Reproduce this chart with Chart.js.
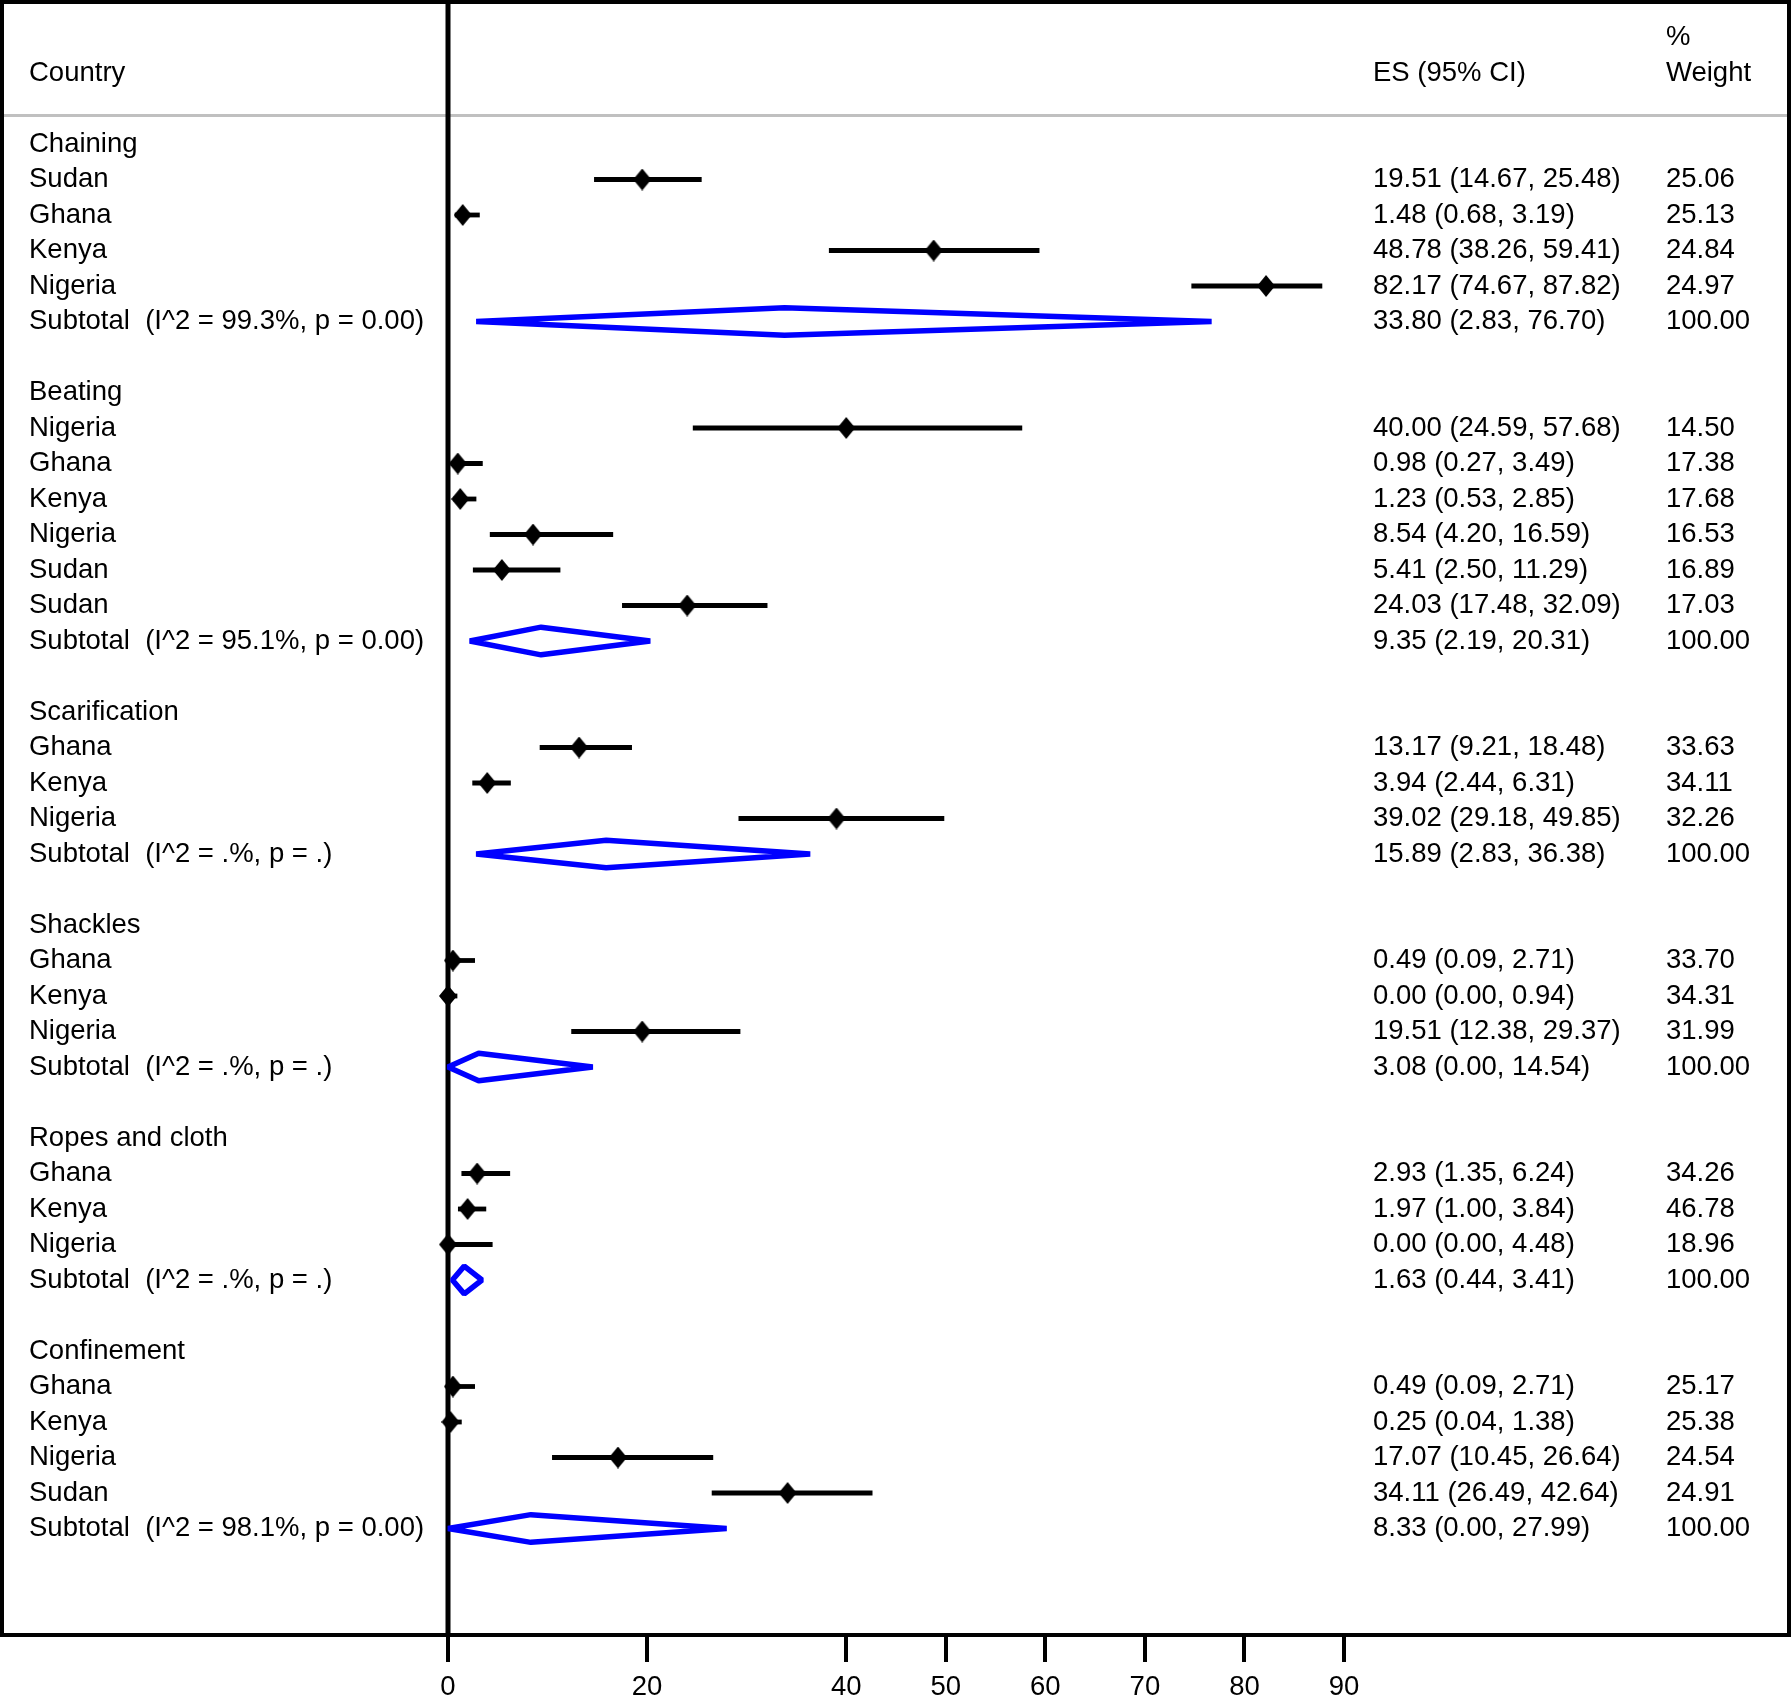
<!DOCTYPE html>
<html>
<head>
<meta charset="utf-8">
<script src="https://cdn.jsdelivr.net/npm/chart.js@4.4.1/dist/chart.umd.min.js"></script>
<style>
  body { margin: 0; background: #fff; }
  #wrap { width: 1792px; height: 1697px; position: relative; }
</style>
</head>
<body>
<div id="wrap"><canvas id="forest"></canvas></div>
<script>
// groups of restraint type
var groups = ['Chaining', 'Beating', 'Scarification', 'Shackles', 'Ropes and cloth', 'Confinement'];
// study rows: group index, country, ES, lower, upper, weight
var studyGroup = [0,0,0,0, 1,1,1,1,1,1, 2,2,2, 3,3,3, 4,4,4, 5,5,5,5];
var countries = ['Sudan','Ghana','Kenya','Nigeria',
  'Nigeria','Ghana','Kenya','Nigeria','Sudan','Sudan',
  'Ghana','Kenya','Nigeria',
  'Ghana','Kenya','Nigeria',
  'Ghana','Kenya','Nigeria',
  'Ghana','Kenya','Nigeria','Sudan'];
var es = [19.51,1.48,48.78,82.17, 40.00,0.98,1.23,8.54,5.41,24.03, 13.17,3.94,39.02, 0.49,0.00,19.51, 2.93,1.97,0.00, 0.49,0.25,17.07,34.11];
var lo = [14.67,0.68,38.26,74.67, 24.59,0.27,0.53,4.20,2.50,17.48, 9.21,2.44,29.18, 0.09,0.00,12.38, 1.35,1.00,0.00, 0.09,0.04,10.45,26.49];
var hi = [25.48,3.19,59.41,87.82, 57.68,3.49,2.85,16.59,11.29,32.09, 18.48,6.31,49.85, 2.71,0.94,29.37, 6.24,3.84,4.48, 2.71,1.38,26.64,42.64];
var weight = [25.06,25.13,24.84,24.97, 14.50,17.38,17.68,16.53,16.89,17.03, 33.63,34.11,32.26, 33.70,34.31,31.99, 34.26,46.78,18.96, 25.17,25.38,24.54,24.91];
// pooled subtotals per group
var subEs = [33.80, 9.35, 15.89, 3.08, 1.63, 8.33];
var subLo = [2.83, 2.19, 2.83, 0.00, 0.44, 0.00];
var subHi = [76.70, 20.31, 36.38, 14.54, 3.41, 27.99];
var subHet = ['(I^2 = 99.3%, p = 0.00)', '(I^2 = 95.1%, p = 0.00)', '(I^2 = .%, p = .)',
  '(I^2 = .%, p = .)', '(I^2 = .%, p = .)', '(I^2 = 98.1%, p = 0.00)'];
// x axis tick labels
var tickVals = [0, 20, 40, 50, 60, 70, 80, 90];

var FONT = '27.5px "Liberation Sans", Arial, Helvetica, sans-serif';
var LABEL_X = 29, ES_X = 1373, WT_X = 1666;
var DIA_H = 0.39; // half height of pooled diamond, in rows

// work out rows
var rowText = [];   // {row, left, es, wt}
var studyRow = [];
var subRow = [];
var r = 0, k = 0;
groups.forEach(function(g, gi) {
  rowText.push({ row: r, left: g });
  r++;
  while (k < studyGroup.length && studyGroup[k] == gi) {
    studyRow[k] = r;
    rowText.push({ row: r, left: countries[k],
      es: es[k].toFixed(2) + ' (' + lo[k].toFixed(2) + ', ' + hi[k].toFixed(2) + ')',
      wt: weight[k].toFixed(2) });
    r++; k++;
  }
  subRow[gi] = r;
  rowText.push({ row: r, left: 'Subtotal  ' + subHet[gi],
    es: subEs[gi].toFixed(2) + ' (' + subLo[gi].toFixed(2) + ', ' + subHi[gi].toFixed(2) + ')',
    wt: '100.00' });
  r += 2;
});

// black diamond marker
var dia = document.createElement('canvas');
dia.width = 18; dia.height = 22;
var dctx = dia.getContext('2d');
dctx.fillStyle = '#000';
dctx.beginPath();
dctx.moveTo(9, 0); dctx.lineTo(18, 11); dctx.lineTo(9, 22); dctx.lineTo(0, 11);
dctx.closePath();
dctx.fill();

var datasets = [];
// point estimates
datasets.push({
  type: 'scatter',
  data: es.map(function(v, i) { return { x: v, y: studyRow[i] }; }),
  pointStyle: dia, pointRadius: 10, order: 0
});
// confidence intervals
es.forEach(function(v, i) {
  datasets.push({
    type: 'line',
    data: [{ x: lo[i], y: studyRow[i] }, { x: hi[i], y: studyRow[i] }],
    borderColor: '#000', borderWidth: 4.8, borderCapStyle: 'butt',
    pointRadius: 0, fill: false, order: 1
  });
});
// pooled diamonds
subEs.forEach(function(v, gi) {
  var y = subRow[gi];
  datasets.push({
    type: 'line',
    data: [{ x: v, y: y - DIA_H }, { x: subHi[gi], y: y }, { x: v, y: y + DIA_H },
           { x: subLo[gi], y: y }, { x: v, y: y - DIA_H }, { x: subHi[gi], y: y }],
    borderColor: '#0000ff', borderWidth: 5.5, borderJoinStyle: 'bevel',
    pointRadius: 0, fill: false, tension: 0, order: 1
  });
});
// null line
datasets.push({
  type: 'line',
  data: [{ x: 0, y: -4 }, { x: 0, y: 42 }],
  borderColor: '#000', borderWidth: 5, pointRadius: 0, fill: false, order: 2
});

var tablePlugin = {
  id: 'table',
  beforeDatasetsDraw: function(chart) {
    var ctx = chart.ctx, a = chart.chartArea, ys = chart.scales.y;
    ctx.save();
    ctx.strokeStyle = '#c0c0c0';
    ctx.lineWidth = 3;
    ctx.beginPath();
    ctx.moveTo(0, ys.getPixelForValue(-0.8));
    ctx.lineTo(a.right, ys.getPixelForValue(-0.8));
    ctx.stroke();
    ctx.restore();
  },
  afterDraw: function(chart) {
    var ctx = chart.ctx, a = chart.chartArea, ys = chart.scales.y;
    ctx.save();
    ctx.fillStyle = '#000';
    ctx.font = FONT;
    ctx.textAlign = 'left';
    ctx.textBaseline = 'middle';
    ctx.fillText('Country', LABEL_X, ys.getPixelForValue(-2));
    ctx.fillText('ES (95% CI)', ES_X, ys.getPixelForValue(-2));
    ctx.fillText('%', WT_X, ys.getPixelForValue(-3));
    ctx.fillText('Weight', WT_X, ys.getPixelForValue(-2));
    rowText.forEach(function(t) {
      var y = ys.getPixelForValue(t.row);
      ctx.fillText(t.left, LABEL_X, y);
      if (t.es) ctx.fillText(t.es, ES_X, y);
      if (t.wt) ctx.fillText(t.wt, WT_X, y);
    });
    // frame
    ctx.strokeStyle = '#000';
    ctx.lineWidth = 4;
    ctx.strokeRect(a.left, a.top, a.right - a.left, a.bottom - a.top);
    ctx.restore();
  }
};

new Chart(document.getElementById('forest'), {
  type: 'scatter',
  data: { datasets: datasets },
  options: {
    responsive: true,
    maintainAspectRatio: false,
    animation: false,
    events: [],
    layout: { autoPadding: false, padding: { left: 2, right: 3, top: 2, bottom: 0 } },
    plugins: { legend: { display: false }, tooltip: { enabled: false } },
    scales: {
      x: {
        type: 'linear',
        min: -44.8,
        max: 134.7,
        afterBuildTicks: function(scale) {
          scale.ticks = tickVals.map(function(v) { return { value: v }; });
        },
        afterFit: function(scale) { scale.height = 62; },
        border: { display: false },
        grid: { drawOnChartArea: false, drawTicks: true, tickLength: 27, color: '#000', lineWidth: 4 },
        ticks: {
          autoSkip: false, maxRotation: 0, padding: 9, color: '#000',
          font: { family: '"Liberation Sans", Arial, Helvetica, sans-serif', size: 27.5 },
          callback: function(v) { return String(v); }
        }
      },
      y: {
        type: 'linear',
        display: false,
        reverse: true,
        min: -4,
        max: 42
      }
    }
  },
  plugins: [tablePlugin]
});
</script>
</body>
</html>
